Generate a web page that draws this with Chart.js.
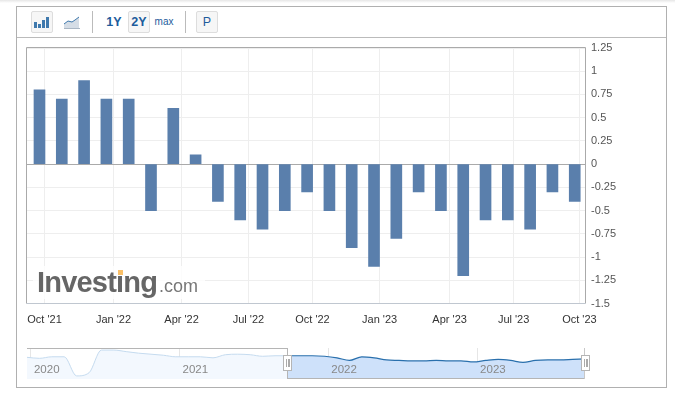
<!DOCTYPE html>
<html>
<head>
<meta charset="utf-8">
<title>Investing.com chart</title>
<script src="https://cdn.jsdelivr.net/npm/chart.js@4"></script>
<style>
    html, body { margin: 0; padding: 0; background: #fff; }
    body { position: relative; width: 675px; height: 396px; overflow: hidden; font-family: "Liberation Sans", Arial, sans-serif; }
    canvas { position: absolute; display: block; }
    .abs { position: absolute; box-sizing: border-box; }
    .btn { top: 11px; width: 22px; height: 22px; border: 1px solid #ddd; border-radius: 2px; background: #f6f6f6; }
    .sep { top: 11px; width: 1px; height: 22px; background: #bbb; }
    .range { top: 11px; height: 22px; line-height: 22px; text-align: center; color: #1d5c9c; font-size: 12.5px; font-weight: bold; }
    .handle { top: 355px; width: 9px; height: 16px; background: #fff; border: 1px solid #b5b5b5; }
    .handle i { position: absolute; left: 2px; top: 3px; width: 1px; height: 8px; background: #aaa; border-right: 1px solid #fff; box-shadow: 2px 0 0 #aaa; }
</style>
</head>
<body>
<div class="abs" style="left:0;top:0;width:675px;height:3px;background:linear-gradient(#e6e6e6,#fff)"></div>
<div class="abs" style="left:16px;top:6px;width:651px;height:382px;border:1px solid #b0b0b0"></div>
<div class="abs" style="left:17px;top:37px;width:649px;height:1px;background:#bbb"></div>

<div class="abs btn" style="left:31px"></div>
<svg class="abs" style="left:34px;top:16px" width="16" height="12">
    <rect x="0" y="6" width="3" height="6" fill="#3f79ad"/>
    <rect x="4" y="8" width="3" height="4" fill="#3f79ad"/>
    <rect x="8" y="4" width="3" height="8" fill="#3f79ad"/>
    <rect x="12" y="1" width="3" height="11" fill="#3f79ad"/>
</svg>
<svg class="abs" style="left:64px;top:16px" width="16" height="13">
    <path d="M0 8 L4 5 L8 6 L11 4 L15 1 V12 H0 Z" fill="#d5dde6"/>
    <path d="M0 8 L4 5 L8 6 L11 4 L15 1" fill="none" stroke="#3f79ad" stroke-width="1"/>
    <path d="M0 12.5 H16" stroke="#a9b6c4" stroke-width="1"/>
</svg>
<div class="abs sep" style="left:92px"></div>
<div class="abs range" style="left:103px;width:22px">1Y</div>
<div class="abs btn" style="left:128px"></div>
<div class="abs range" style="left:128px;width:22px">2Y</div>
<div class="abs range" style="left:154px;width:20px;font-size:10px;font-weight:normal">max</div>
<div class="abs sep" style="left:185px"></div>
<div class="abs btn" style="left:196px"></div>
<div class="abs range" style="left:196px;width:22px;font-weight:normal">P</div>

<canvas id="mainChart" width="675" height="396" style="left:0;top:0"></canvas>

<!-- watermark -->
<div class="abs" style="left:33px;top:266px;width:172px;height:33px;background:rgba(255,255,255,0.8)"></div>
<div class="abs" style="left:37px;top:268px;white-space:nowrap;line-height:29px;color:#666;font-size:29px;font-weight:bold;letter-spacing:-0.8px">Investing<span style="font-size:18px;font-weight:normal;letter-spacing:0;margin-left:2px;color:#777">.com</span></div>
<div class="abs" style="left:118px;top:270px;width:5px;height:5px;background:#fbc067"></div>

<canvas id="navChart" width="558" height="31" style="left:27px;top:348px"></canvas>
<div class="abs" style="left:27px;top:348px;width:261px;height:1px;background:#b5b5b5"></div>
<div class="abs" style="left:287px;top:348px;width:1px;height:31px;background:#b5b5b5"></div>
<div class="abs" style="left:287px;top:378px;width:298px;height:1px;background:#b5b5b5"></div>
<div class="abs" style="left:584px;top:348px;width:1px;height:31px;background:#c8c8c8"></div>
<div class="abs handle" style="left:283px"><i></i></div>
<div class="abs handle" style="left:581px"><i></i></div>

<script>
    // Monthly change, Oct '21 to Oct '23 (one bar per month)
    const barMonths = [0, 1, 2, 3, 4, 5, 6, 7, 8, 9, 10, 11, 12, 13, 14, 15, 16, 17, 18, 19, 20, 21, 22, 23, 24];
    const barValues = [0.8, 0.7, 0.9, 0.7, 0.7, -0.5, 0.6, 0.1, -0.4, -0.6, -0.7, -0.5, -0.3,
        -0.5, -0.9, -1.1, -0.8, -0.3, -0.5, -1.2, -0.6, -0.6, -0.7, -0.3, -0.4];

    // Date ticks do not sit exactly on the bars, same as the picture
    const xTickMonths = [0.225, 3.32, 6.37, 9.37, 12.24, 15.25, 18.39, 21.26, 24.21];
    const xTickLabels = ["Oct '21", "Jan '22", "Apr '22", "Jul '22", "Oct '22", "Jan '23", "Apr '23", "Jul '23", "Oct '23"];

    // Navigator, whole history from the start of 2020
    const navMonths = [0, 1, 2, 3, 4, 5, 6, 7, 8, 9, 10, 11, 12, 13, 14, 15, 16, 17, 18, 19, 20, 21, 22,
        23, 24, 25, 26, 27, 28, 29, 30, 31, 32, 33, 34, 35, 36, 37, 38, 39, 40, 41, 42, 43, 44, 45];
    const navValues = [1.2, 1.0, 1.3, 1.3, -2.4, -1.8, 2.6, 2.6, 2.3, 2.0, 1.8, 1.6, 1.3, 1.3, 1.3, 1.1,
        1.7, 1.8, 1.7, 1.4, 1.5, 1.5, 1.5, 1.5, 1.4, 1.1, 0.6, 1.3, 1.1, 0.7, 0.6, 0.5, 0.5,
        0.6, 0.5, 0.5, 0.3, 0.6, 0.8, 0.6, 0.2, 0.6, 0.7, 0.7, 0.8, 0.9];
    const navYearMonths = [0.32, 12.3, 24.3, 36.3];
    const navYearLabels = ['2020', '2021', '2022', '2023'];
    const navSelectedFrom = 21;

    const fontFamily = '"Liberation Sans", Arial, sans-serif';

    // Border round the plot area
    const plotFrame = {
        id: 'plotFrame',
        afterDraw(chart) {
            const ctx = chart.ctx;
            const a = chart.chartArea;
            ctx.save();
            ctx.lineWidth = 1;
            ctx.strokeStyle = '#aaa';
            ctx.beginPath();
            ctx.moveTo(a.left - 0.5, a.bottom);
            ctx.lineTo(a.left - 0.5, a.top - 0.5);
            ctx.lineTo(a.right + 0.5, a.top - 0.5);
            ctx.lineTo(a.right + 0.5, a.bottom);
            ctx.stroke();
            ctx.strokeStyle = '#c0c7d0';
            ctx.beginPath();
            ctx.moveTo(a.left - 0.5, a.bottom);
            ctx.lineTo(a.right + 0.5, a.bottom);
            ctx.stroke();
            ctx.restore();
        }
    };

    // Year labels sit inside the navigator, over the filled area
    const navYears = {
        id: 'navYears',
        afterDatasetsDraw(chart) {
            const ctx = chart.ctx;
            ctx.save();
            ctx.font = '11.5px ' + fontFamily;
            ctx.fillStyle = '#888';
            ctx.textBaseline = 'middle';
            navYearLabels.forEach((label, i) => {
                ctx.fillText(label, chart.scales.x.getPixelForValue(navYearMonths[i]) + 3, 22);
            });
            ctx.restore();
        }
    };

    new Chart(document.getElementById('mainChart'), {
        type: 'bar',
        data: {
            datasets: [{
                data: barMonths.map((m, i) => ({ x: m, y: barValues[i] })),
                backgroundColor: '#5a7fac',
                barThickness: 11
            }]
        },
        options: {
            responsive: false,
            animation: false,
            layout: { padding: { left: 27, top: 48, right: 0, bottom: 0 } },
            plugins: { legend: { display: false }, tooltip: { enabled: false } },
            scales: {
                x: {
                    type: 'linear',
                    offset: false,
                    min: -0.56,
                    max: 24.46,
                    afterFit: scale => { scale.height = 92.5; },
                    afterBuildTicks: scale => { scale.ticks = xTickMonths.map(v => ({ value: v })); },
                    grid: { color: '#eee', drawTicks: false, offset: false },
                    border: { display: false },
                    ticks: {
                        callback: (v, i) => xTickLabels[i],
                        autoSkip: false,
                        maxRotation: 0,
                        padding: 10,
                        color: '#333',
                        font: { family: fontFamily, size: 11 }
                    }
                },
                y: {
                    position: 'right',
                    min: -1.5,
                    max: 1.25,
                    afterFit: scale => { scale.width = 90; },
                    grid: {
                        color: c => (c.tick.value === 0 ? '#aaa' : '#eee'),
                        drawTicks: false
                    },
                    border: { display: false },
                    ticks: {
                        stepSize: 0.25,
                        callback: v => String(v),
                        padding: 6,
                        color: '#555',
                        font: { family: fontFamily, size: 11 }
                    }
                }
            }
        },
        plugins: [plotFrame]
    });

    const navPoints = navMonths.map((m, i) => ({ x: m, y: navValues[i] }));

    new Chart(document.getElementById('navChart'), {
        type: 'line',
        data: {
            datasets: [
                {
                    data: navPoints.filter(p => p.x <= navSelectedFrom),
                    borderColor: '#c5dbef',
                    backgroundColor: '#f3f8fe',
                    borderWidth: 1,
                    fill: 'start',
                    cubicInterpolationMode: 'monotone',
                    pointRadius: 0
                },
                {
                    data: navPoints.filter(p => p.x >= navSelectedFrom),
                    borderColor: '#2a70ad',
                    backgroundColor: '#cee1fa',
                    borderWidth: 1.2,
                    fill: 'start',
                    cubicInterpolationMode: 'monotone',
                    pointRadius: 0
                }
            ]
        },
        options: {
            responsive: false,
            animation: false,
            layout: { padding: 0 },
            plugins: { legend: { display: false }, tooltip: { enabled: false } },
            scales: {
                x: {
                    type: 'linear',
                    min: 0,
                    max: 45,
                    afterFit: scale => { scale.height = 0; },
                    afterBuildTicks: scale => { scale.ticks = navYearMonths.map(v => ({ value: v })); },
                    grid: { color: '#e6e6e6', drawTicks: false },
                    border: { display: false },
                    ticks: { display: false }
                },
                y: { display: false, min: -3, max: 3 }
            }
        },
        plugins: [navYears]
    });
</script>
</body>
</html>
